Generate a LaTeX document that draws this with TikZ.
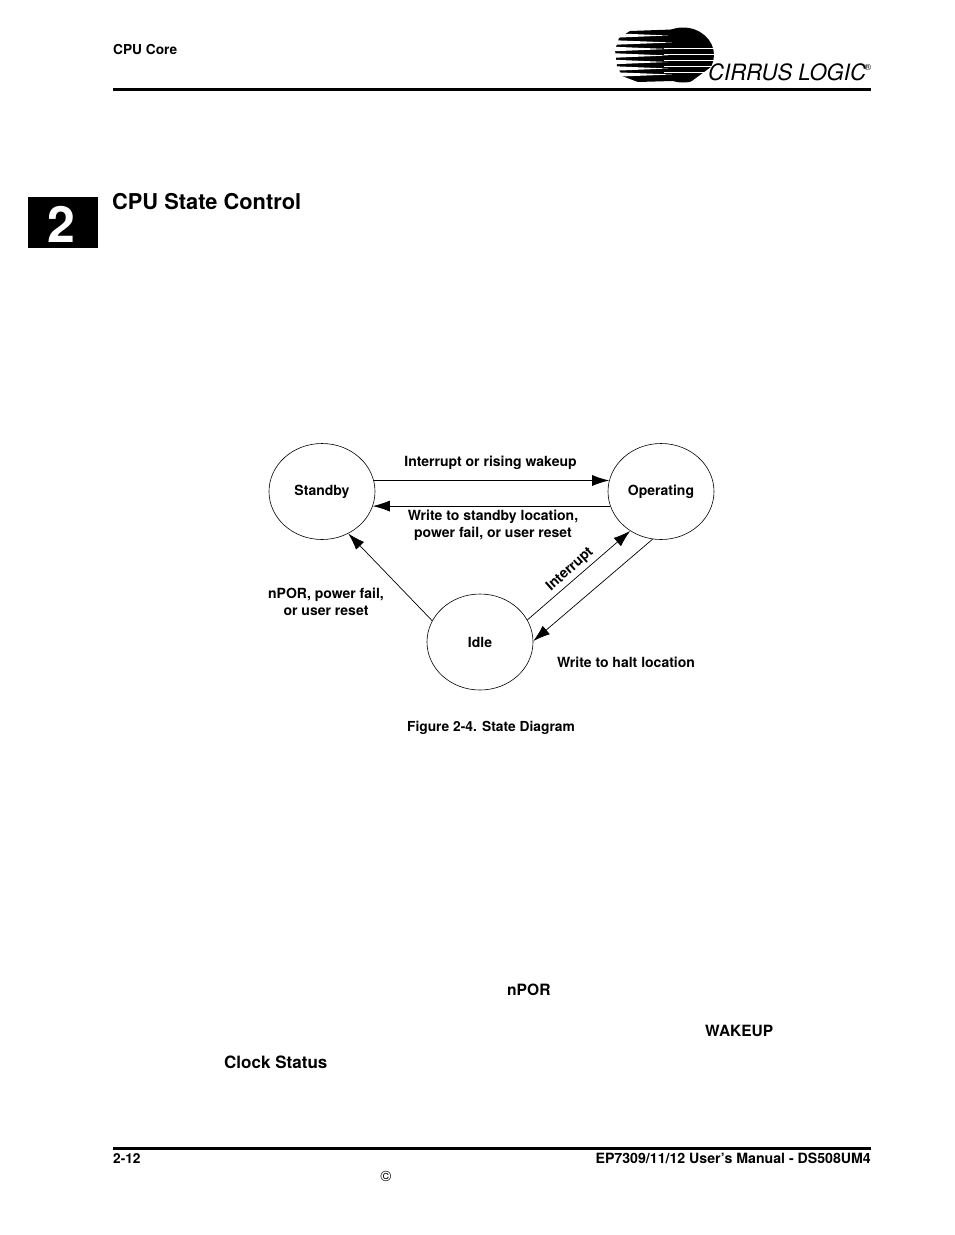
\documentclass[tikz,border=0pt]{standalone}
\usepackage{fontspec}
\setmainfont{TeX Gyre Heros}
\usetikzlibrary{arrows.meta,shapes.geometric}
\tikzset{
  statenode/.style={ellipse,draw,line width=.6pt,minimum width=106pt,minimum height=96pt,inner sep=0pt,font=\bfseries\fontsize{14}{15}\selectfont},
  statearrow/.style={-{Latex[length=17pt,width=11pt]},line width=.7pt},
  edgetext/.style={inner sep=0pt,align=center,font=\bfseries\fontsize{14}{17}\selectfont},
  pagetext/.style={inner sep=0pt,anchor=base west,font=\bfseries\fontsize{13.7}{16}\selectfont},
  pagerule/.style={line width=3pt},
  logocut/.style={white,line width=.9pt}
}
\begin{document}
\begin{tikzpicture}[x=1pt,y=-1pt]
  \useasboundingbox (0,0) rectangle (954,1235);

  % --------------------------------------------------------------
  % Page head and foot.
  % --------------------------------------------------------------
  \node[pagetext] (headtitle) at (113,54) {CPU Core};
  \draw[pagerule] (113,89.5) -- (871,89.5);
  \node[pagetext,font=\bfseries\fontsize{21.8}{26}\selectfont] (sectitle) at (112,209) {CPU State Control};
  \fill (28,197) rectangle (98,248);
  \node[inner sep=0pt,text=white,font=\bfseries\fontsize{50}{50}\selectfont] (chapnum) at (61,224) {2};
  \draw[pagerule] (113,1148) -- (871,1148);
  \node[pagetext] (pagenum) at (113,1163) {2-12};
  \node[pagetext,anchor=base east,font=\bfseries\fontsize{14.15}{16}\selectfont] (manual) at (871,1163) {EP7309/11/12 User’s Manual - DS508UM4};
  \node[inner sep=0pt,font=\fontsize{15}{16}\selectfont] (copymark) at (386,1176) {©};

  % --------------------------------------------------------------
  % Logo: a black disc and hull, cut by white wedges and lines.
  % --------------------------------------------------------------
  \fill (683,55) circle[x radius=31pt,y radius=27.5pt];
  \fill (630,31) -- (672,29.5) -- (672,81) -- (638,82) -- (622,76) -- (617,66) -- (615,50) -- (619,38) -- cycle;
  \fill[white] (600,24) -- (632,29.5) -- (662,27.5) -- (600,27) -- cycle;
  \foreach \y/\xe in {35.5/668,42.5/672,49/668,55.5/668,62/668,68.5/668,74.5/672}
    {\fill[white] (608,\y-2.5) -- (\xe,\y) -- (608,\y+2.5) -- cycle;}
  \foreach \y/\xa in {48/664,54/664,60/664,66/664,72/664}
    {\draw[logocut] (\xa,\y) -- (716,\y);}
  \fill[white] (718,62) -- (718,84) -- (688,84) -- cycle;
  \node[inner sep=0pt,anchor=base west,font=\fontsize{22.5}{24}\selectfont] (logoname) at (708,80)
    {\itshape\scalebox{.98}[1]{CIRRUS LOGIC}};
  \node[inner sep=0pt,font=\fontsize{9}{9}\selectfont] (logoreg) at (868,67) {®};

  % --------------------------------------------------------------
  % The states.
  % --------------------------------------------------------------
  \node[statenode] (standby) at (322,491.5) {Standby};
  \node[statenode] (operating) at (661,491.5) {Operating};
  \node[statenode] (idle) at (480,642) {Idle};

  % --------------------------------------------------------------
  % Transitions.
  % --------------------------------------------------------------
  \draw[statearrow] (standby.12) -- (operating.168);
  \draw[statearrow] (operating.196) -- (standby.344);
  \draw[statearrow] (idle.156) -- (standby.302);
  \draw[statearrow] (idle.25) -- (operating.232);
  \draw[statearrow] (operating.260) -- (idle.1);

  % Labels of the transitions
  \node[edgetext] (wakeuplabel) at (490.5,463) {Interrupt or rising wakeup};
  \node[edgetext] (standbylabel) at (493,525) {Write to standby location,\\power fail, or user reset};
  \node[edgetext] (porlabel) at (326,602) {nPOR, power fail,\\or user reset};
  \node[edgetext,rotate=42] (interruptlabel) at (570,569.5) {Interrupt};
  \node[edgetext] (haltlabel) at (626,662) {Write to halt location};
  \node[edgetext,font=\bfseries\fontsize{13.8}{16}\selectfont] (figlabel) at (491,727.5) {Figure 2-4. State Diagram};

  % --------------------------------------------------------------
  % Words left of the body text.
  % --------------------------------------------------------------
  \node[pagetext,font=\bfseries\fontsize{15.6}{18}\selectfont] (npor) at (507,995) {nPOR};
  \node[pagetext,font=\bfseries\fontsize{15.5}{18}\selectfont] (wakeup) at (705,1036) {WAKEUP};
  \node[pagetext,font=\bfseries\fontsize{17}{18}\selectfont] (clockstatus) at (224,1068) {Clock Status};
\end{tikzpicture}
\end{document}
